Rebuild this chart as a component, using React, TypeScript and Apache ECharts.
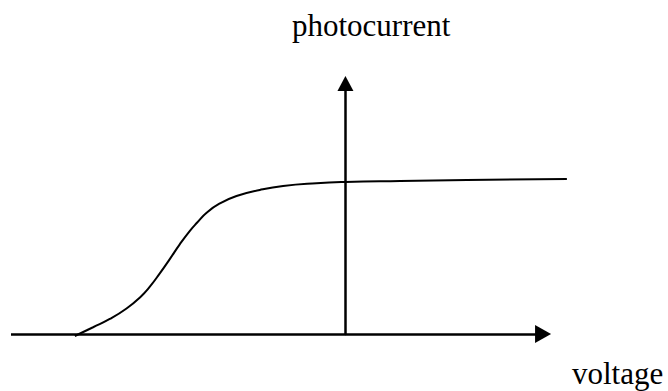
import React, { useEffect, useRef } from "react";
import * as echarts from "echarts";

// Curve samples (voltage, photocurrent) in arbitrary units; vertical axis at voltage = 0
const voltage = [-5.34, -4.98, -4.65, -4.32, -4.05, -3.86, -3.66, -3.46, -3.27, -3.07, -2.93, -2.74, -2.48, -2.15, -1.69, -1.23, -0.57, 0, 1.08, 2.4, 4.37];
const photocurrent = [-0.08, 0.27, 0.6, 1.02, 1.47, 1.89, 2.43, 3.01, 3.58, 4.12, 4.44, 4.84, 5.21, 5.51, 5.75, 5.91, 6.02, 6.07, 6.11, 6.15, 6.19];

const xRange = [-6.6, 4.4];
const xAxisEnd = 3.9; // where the horizontal axis arrow ends
const yRange = [0, 10];
const xLabel = "voltage";
const yLabel = "photocurrent";

export default function App() {
  const ref = useRef<HTMLDivElement>(null);
  useEffect(() => {
    if (!ref.current) return;
    const chart = echarts.init(ref.current, null, { renderer: "svg" });
    const data = voltage.map((v, i) => [v, photocurrent[i]]);
    chart.setOption({
      animation: false,
      backgroundColor: "#ffffff",
      grid: { left: 11, top: 83.5, width: 557.4, height: 250.5, containLabel: false },
      xAxis: {
        type: "value",
        min: xRange[0],
        max: xRange[1],
        axisLine: { show: false },
        axisTick: { show: false },
        axisLabel: { show: false },
        splitLine: { show: false },
      },
      yAxis: {
        type: "value",
        min: yRange[0],
        max: yRange[1],
        axisLine: {
          show: true,
          onZero: true,
          symbol: ["none", "triangle"],
          symbolSize: [16, 15],
          lineStyle: { color: "#000", width: 2.5 },
        },
        axisTick: { show: false },
        axisLabel: { show: false },
        splitLine: { show: false },
      },
      series: [
        {
          type: "line",
          data,
          smooth: 0.5,
          symbol: "none",
          clip: false,
          lineStyle: { color: "#000", width: 2 },
          z: 3,
        },
        {
          type: "line",
          data: [],
          symbol: "none",
          z: 2,
          markLine: {
            silent: true,
            animation: false,
            symbol: ["none", "triangle"],
            symbolSize: [18, 16],
            label: { show: false },
            lineStyle: { color: "#000", width: 2.5, type: "solid" },
            itemStyle: { color: "#000" },
            emphasis: { disabled: true },
            data: [[{ coord: [xRange[0], 0] }, { coord: [xAxisEnd, 0] }]],
          },
        },
      ],
      graphic: [
        {
          type: "text",
          x: 292,
          y: 25.5,
          style: {
            text: yLabel,
            font: "31px 'Liberation Serif', 'Times New Roman', serif",
            fill: "#000",
            align: "left",
            verticalAlign: "middle",
          },
        },
        {
          type: "text",
          x: 572,
          y: 373.5,
          style: {
            text: xLabel,
            font: "31px 'Liberation Serif', 'Times New Roman', serif",
            fill: "#000",
            align: "left",
            verticalAlign: "middle",
          },
        },
      ],
    });
    return () => chart.dispose();
  }, []);
  return (
    <div
      ref={ref}
      style={{ position: "absolute", left: 0, top: 0, width: 668, height: 391 }}
    />
  );
}
